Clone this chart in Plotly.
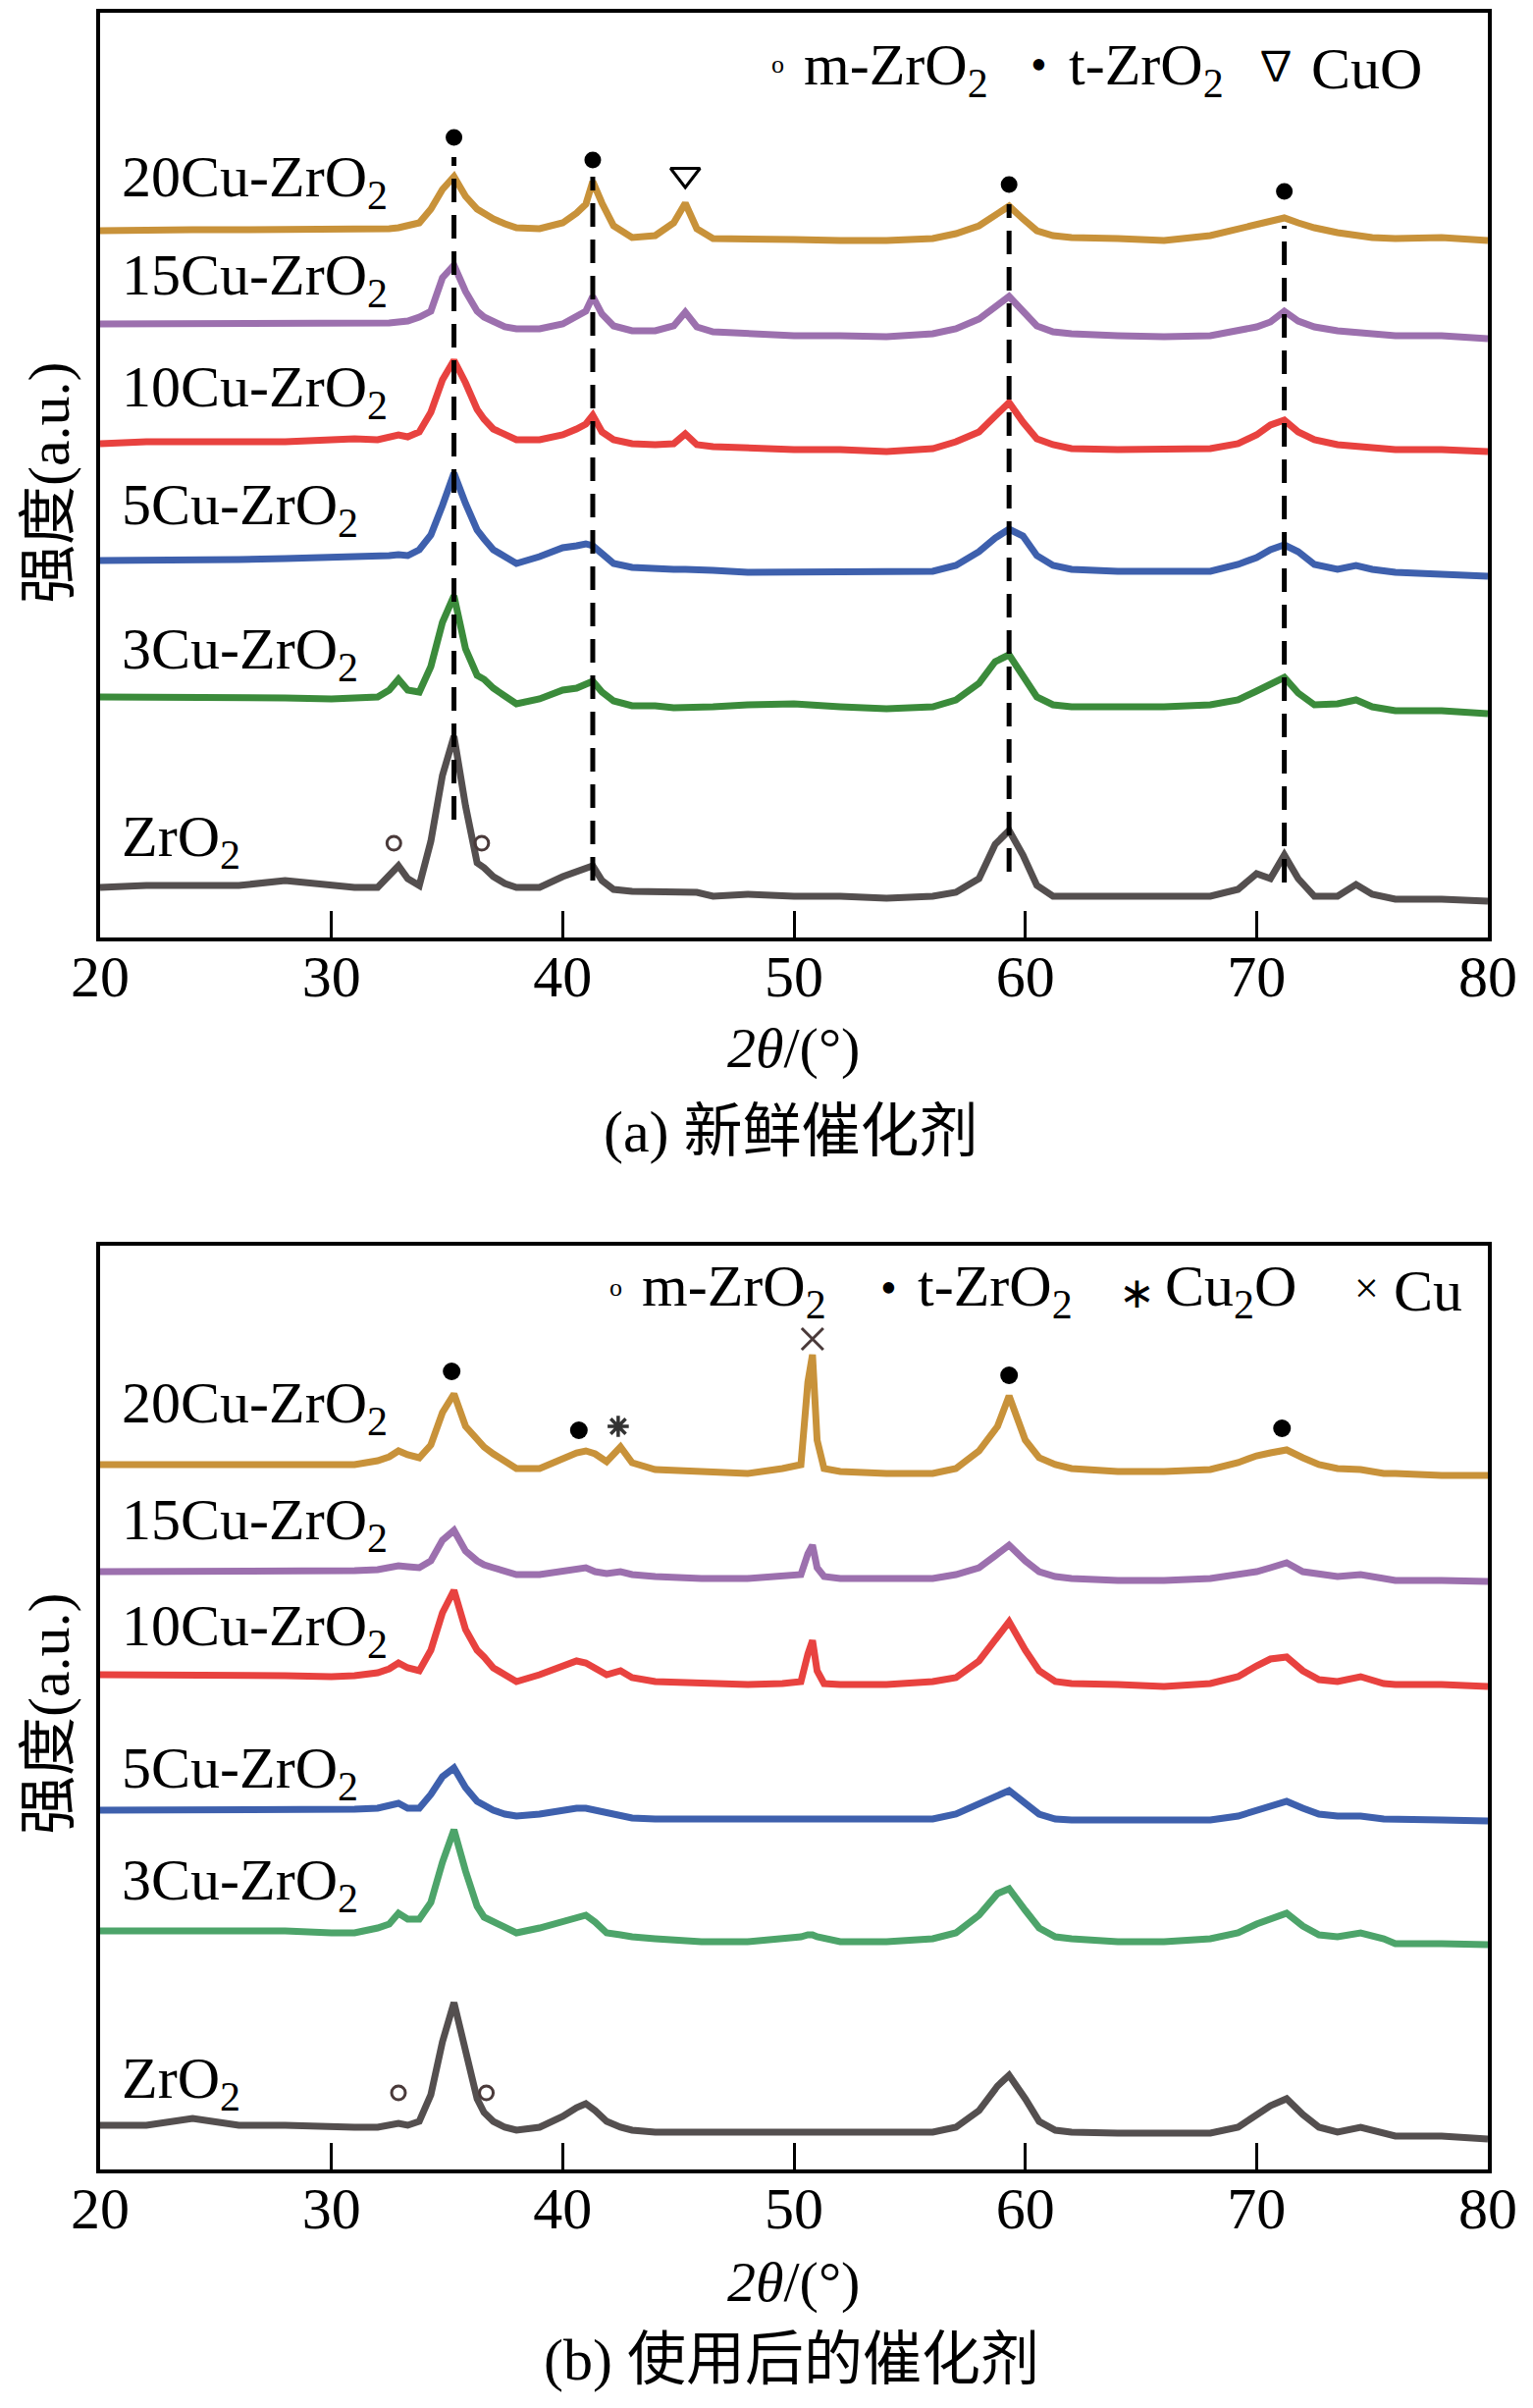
import plotly.graph_objects as go

W, H = 1562, 2453
OFF = 8  # page body margin of the exported html
FONT = "Liberation Serif, Noto Sans CJK SC, serif"

# ---------------- data: (a) fresh catalysts ----------------
xa = [20, 22, 24, 26, 28, 30, 31, 32, 32.5, 32.9, 33.3, 33.8, 34.3, 34.8, 35.3, 35.8,
      36.3, 36.6, 37, 37.5, 38, 39, 40, 40.6, 41.0, 41.3, 41.7, 42.2, 43, 44, 44.8,
      45.3, 45.8, 46.5, 48, 50, 52, 54, 56, 57, 58, 58.7, 59.3, 59.9, 60.5, 61.2, 62,
      64, 66, 68, 69.2, 70, 70.6, 71.2, 71.8, 72.5, 73.5, 74.3, 75, 76, 78, 80]

fresh_20cu = [720, 721, 721, 721, 721, 721, 721, 722, 722, 723, 725, 728,
              742, 762, 775, 755, 742, 737, 732, 727, 723, 722, 728, 738,
              747, 770, 748, 725, 713, 715, 728, 748, 722, 712, 712, 711,
              710, 710, 712, 717, 725, 735, 745, 732, 720, 715, 713, 712,
              710, 715, 722, 725, 730, 733, 728, 723, 718, 715, 713, 712,
              713, 710]
fresh_15cu = [625, 625, 625, 625, 625, 625, 625, 625, 626, 627, 628, 632,
              638, 672, 685, 658, 638, 632, 627, 622, 620, 620, 625, 633,
              638, 653, 635, 623, 618, 618, 623, 637, 622, 617, 615, 613,
              613, 612, 615, 620, 630, 642, 653, 638, 623, 617, 615, 613,
              612, 613, 618, 622, 627, 638, 628, 622, 618, 617, 615, 613,
              613, 610]
fresh_10cu = [503, 505, 505, 505, 505, 507, 508, 507, 509, 512, 510, 515,
              535, 568, 588, 565, 538, 528, 518, 512, 507, 507, 512, 518,
              523, 532, 515, 507, 503, 502, 503, 513, 502, 500, 498, 497,
              497, 495, 498, 505, 515, 532, 545, 525, 508, 502, 498, 497,
              497, 498, 503, 512, 522, 527, 515, 507, 502, 500, 498, 497,
              497, 495]
fresh_5cu = [384, 384, 385, 385, 386, 387, 387, 388, 389, 390, 389, 395,
             410, 440, 473, 442, 415, 406, 395, 388, 381, 388, 397, 399,
             401, 399, 390, 381, 377, 375, 375, 375, 375, 374, 372, 372,
             372, 372, 373, 379, 393, 407, 416, 409, 389, 379, 375, 373,
             373, 373, 380, 387, 395, 400, 393, 380, 375, 379, 375, 372,
             370, 368]
fresh_3cu = [245, 245, 245, 244, 244, 243, 244, 245, 252, 263, 252, 250,
             276, 321, 348, 294, 267, 263, 254, 245, 238, 243, 252, 254,
             259, 261, 250, 241, 236, 236, 234, 234, 234, 235, 237, 238,
             235, 233, 235, 242, 259, 281, 288, 266, 245, 237, 235, 235,
             235, 237, 242, 251, 258, 265, 249, 237, 238, 242, 235, 231,
             231, 228]
fresh_zro2 = [51, 53, 53, 53, 58, 53, 51, 51, 62, 73, 60, 53,
              98, 165, 205, 134, 76, 71, 62, 55, 51, 51, 62, 67,
              71, 73, 58, 49, 47, 47, 47, 47, 46, 42, 44, 42,
              42, 40, 42, 46, 60, 95, 109, 84, 53, 42, 42, 42,
              42, 42, 49, 65, 60, 84, 60, 42, 42, 54, 44, 39,
              39, 37]

# reference lines of t-ZrO2 and phase markers, panel (a)
dash_x = [35.3, 41.3, 59.3, 71.2]
dash_top = [795, 775, 747, 725]
dash_bottom = [120, 58, 67, 56]
t_x_a = [35.3, 41.3, 59.3, 71.2]
t_y_a = [815, 792, 767, 760]
cuo_x = [45.3]
cuo_y = [777]
m_x_a = [32.7, 36.5]
m_y_a = [96, 96]

# ---------------- data: (b) used catalysts ----------------
xb = [20, 22, 24, 26, 28, 30, 31, 32, 32.5, 32.9, 33.3, 33.8, 34.3, 34.8, 35.3, 35.8,
      36.3, 36.6, 37, 37.5, 38, 39, 40, 40.6, 41.0, 41.4, 41.9, 42.5, 43.0, 44, 46,
      48, 49.5, 50.3, 50.6, 50.8, 51.0, 51.3, 52, 54, 56, 57, 58, 58.8, 59.3, 60.0,
      60.6, 61.3, 62, 64, 66, 68, 69.2, 70.0, 70.6, 71.3, 72.0, 72.7, 73.5, 74.5,
      75.5, 76, 78, 80]

used_20cu = [718, 718, 718, 718, 718, 718, 718, 722, 726, 732, 728, 725,
             738, 771, 790, 757, 743, 736, 729, 721, 714, 714, 725, 730,
             732, 729, 721, 736, 720, 713, 711, 709, 714, 718, 802, 830,
             743, 714, 711, 709, 709, 714, 732, 757, 788, 743, 725, 718,
             714, 711, 711, 713, 720, 727, 730, 733, 725, 718, 714, 713,
             709, 709, 707, 707]
used_15cu = [609, 609, 609, 609, 609, 609, 610, 611, 613, 615, 614, 613,
             620, 641, 651, 630, 620, 616, 613, 609, 606, 606, 609, 611,
             613, 609, 607, 609, 606, 604, 602, 602, 604, 606, 627, 636,
             613, 604, 602, 602, 602, 606, 613, 627, 636, 620, 609, 604,
             602, 600, 600, 602, 606, 609, 613, 618, 609, 606, 604, 606,
             602, 600, 600, 599]
used_10cu = [504, 504, 503, 503, 503, 502, 503, 506, 510, 516, 511, 508,
             529, 567, 590, 550, 529, 522, 511, 504, 497, 504, 513, 518,
             516, 511, 504, 508, 501, 497, 495, 494, 495, 497, 525, 539,
             508, 495, 494, 494, 497, 501, 518, 543, 558, 529, 508, 497,
             495, 494, 492, 495, 502, 513, 520, 522, 508, 499, 497, 502,
             495, 494, 494, 492]
used_5cu = [366, 366, 366, 366, 366, 366, 367, 368, 370, 373, 368, 368,
            382, 400, 409, 389, 375, 371, 366, 362, 360, 362, 366, 368,
            368, 366, 362, 360, 358, 357, 357, 357, 357, 357, 357, 357,
            357, 357, 357, 357, 357, 362, 373, 382, 386, 373, 362, 357,
            356, 356, 356, 356, 360, 366, 371, 375, 368, 362, 360, 360,
            357, 357, 356, 355]
used_3cu = [243, 243, 243, 243, 243, 241, 241, 246, 250, 261, 255, 255,
            272, 313, 346, 304, 268, 257, 252, 246, 241, 246, 252, 257,
            259, 252, 241, 239, 237, 235, 232, 232, 235, 237, 239, 239,
            237, 235, 232, 232, 235, 241, 259, 281, 286, 264, 246, 237,
            235, 232, 232, 235, 241, 250, 255, 261, 248, 239, 237, 241,
            235, 230, 230, 229]
used_zro2 = [45, 45, 52, 45, 45, 43, 43, 43, 45, 47, 45, 49,
             76, 130, 170, 121, 72, 58, 49, 43, 40, 43, 54, 63,
             67, 60, 49, 43, 40, 38, 38, 38, 38, 38, 38, 38,
             38, 38, 38, 38, 38, 43, 60, 85, 96, 72, 49, 40,
             38, 37, 37, 37, 43, 56, 65, 72, 56, 43, 38, 43,
             36, 34, 34, 31]

t_x_b = [35.2, 40.7, 59.3, 71.1]
t_y_b = [813, 753, 809, 755]
cu2o_x = [42.4]
cu2o_y = [757]
cu_x = [50.8]
cu_y = [846]
m_x_b = [32.9, 36.7]
m_y_b = [78, 78]

labels = ["20Cu-ZrO<sub>2</sub>", "15Cu-ZrO<sub>2</sub>", "10Cu-ZrO<sub>2</sub>",
          "5Cu-ZrO<sub>2</sub>", "3Cu-ZrO<sub>2</sub>", "ZrO<sub>2</sub>"]
ticks = [20, 30, 40, 50, 60, 70, 80]

colors_a = ["#C8923A", "#9C70AE", "#E8423F", "#3E60AD", "#3B8B3B", "#544F4F"]
colors_b = ["#C8923A", "#9C70AE", "#E8423F", "#3E60AD", "#4DA46A", "#544F4F"]

fig = go.Figure()

# curves
for ys, c in zip([fresh_20cu, fresh_15cu, fresh_10cu, fresh_5cu, fresh_3cu, fresh_zro2], colors_a):
    fig.add_trace(go.Scatter(x=xa, y=ys, mode="lines", line=dict(color=c, width=7),
                             xaxis="x", yaxis="y", showlegend=False))
for ys, c in zip([used_20cu, used_15cu, used_10cu, used_5cu, used_3cu, used_zro2], colors_b):
    fig.add_trace(go.Scatter(x=xb, y=ys, mode="lines", line=dict(color=c, width=7),
                             xaxis="x2", yaxis="y2", showlegend=False))

# dashed guide lines (a)
for x0, y0, y1 in zip(dash_x, dash_bottom, dash_top):
    fig.add_trace(go.Scatter(x=[x0, x0], y=[y0, y1], mode="lines",
                             line=dict(color="black", width=5, dash="24px,13px"),
                             xaxis="x", yaxis="y", showlegend=False))

# phase markers
def markers(x, y, symbol, size, ax, ay, lw=0, color="black"):
    fig.add_trace(go.Scatter(x=x, y=y, mode="markers", xaxis=ax, yaxis=ay, showlegend=False,
                             marker=dict(symbol=symbol, size=size, color=color,
                                         line=dict(color=color, width=lw))))

markers(t_x_a, t_y_a, "circle", 17, "x", "y")
markers(cuo_x, cuo_y, "triangle-down-open", 26, "x", "y", lw=3)
markers(m_x_a, m_y_a, "circle-open", 14, "x", "y", lw=3, color="#4a3a3a")
markers(t_x_b, t_y_b, "circle", 18, "x2", "y2")
markers(cu2o_x, cu2o_y, "asterisk-open", 18, "x2", "y2", lw=3.5, color="#333")
markers(cu_x, cu_y, "x-thin-open", 22, "x2", "y2", lw=3, color="#4a3a3a")
markers(m_x_b, m_y_b, "circle-open", 14, "x2", "y2", lw=3, color="#4a3a3a")

# ---------------- layout ----------------
def fx(px):
    return (px - OFF) / W


def fy(py):
    return 1 - (py - OFF) / H


xdom = [fx(102), fx(1516)]
axis_common = dict(showline=True, mirror=True, linecolor="black", linewidth=3.5,
                   showgrid=False, zeroline=False, automargin=False)
xaxis_common = dict(axis_common, range=[20, 80], tickvals=ticks, ticks="inside",
                    ticklen=27, tickwidth=3, tickcolor="black", ticklabelstandoff=-16,
                    tickfont=dict(family=FONT, size=60, color="black"), domain=xdom)
yaxis_common = dict(axis_common, showticklabels=False, ticks="")

ann = []


def text(t, x, y, size=60, xanchor="center", yanchor="middle", angle=0):
    ann.append(dict(text=t, x=fx(x), y=fy(y), xref="paper", yref="paper",
                    showarrow=False, xanchor=xanchor, yanchor=yanchor, textangle=angle,
                    font=dict(family=FONT, size=size, color="black")))


# sample labels
for lab, y in zip(labels, [185, 284, 398, 519, 665, 856]):
    text(lab, 122, y, xanchor="left")
for lab, y in zip(labels, [1434, 1553, 1660, 1805, 1919, 2121]):
    text(lab, 122, y, xanchor="left")

# legends (a)
text("o", 793, 66, size=26)
text("m-ZrO<sub>2</sub>", 817, 70, xanchor="left")
text("•", 1058, 66, size=48)
text("t-ZrO<sub>2</sub>", 1087, 70, xanchor="left")
text("∇", 1300, 68, size=42)
text("CuO", 1334, 70, xanchor="left")
# legends (b)
text("o", 627, 1311, size=26)
text("m-ZrO<sub>2</sub>", 652, 1315, xanchor="left")
text("•", 906, 1311, size=48)
text("t-ZrO<sub>2</sub>", 933, 1315, xanchor="left")
text("∗", 1158, 1318, size=44)
text("Cu<sub>2</sub>O", 1185, 1315, xanchor="left")
text("×", 1392, 1312, size=44)
text("Cu", 1418, 1315, xanchor="left")

# axis titles and captions
text("强度(a.u.)", 50, 492, angle=-90)
text("强度(a.u.)", 50, 1746, angle=-90)
text("<i>2θ</i>/(°)", 809, 1067, size=58)
text("<i>2θ</i>/(°)", 809, 2324, size=58)
text("(a) 新鲜催化剂", 806, 1153)
text("(b) 使用后的催化剂", 806, 2404)

fig.update_layout(
    width=W, height=H,
    margin=dict(l=0, r=0, t=0, b=0, autoexpand=False),
    paper_bgcolor="white", plot_bgcolor="white",
    xaxis=dict(xaxis_common, anchor="y"),
    yaxis=dict(yaxis_common, range=[0, 942], domain=[fy(955), fy(13)], anchor="x"),
    xaxis2=dict(xaxis_common, anchor="y2"),
    yaxis2=dict(yaxis_common, range=[0, 941], domain=[fy(2210), fy(1269)], anchor="x2"),
    annotations=ann,
    showlegend=False,
)

fig.write_html("out.html")
